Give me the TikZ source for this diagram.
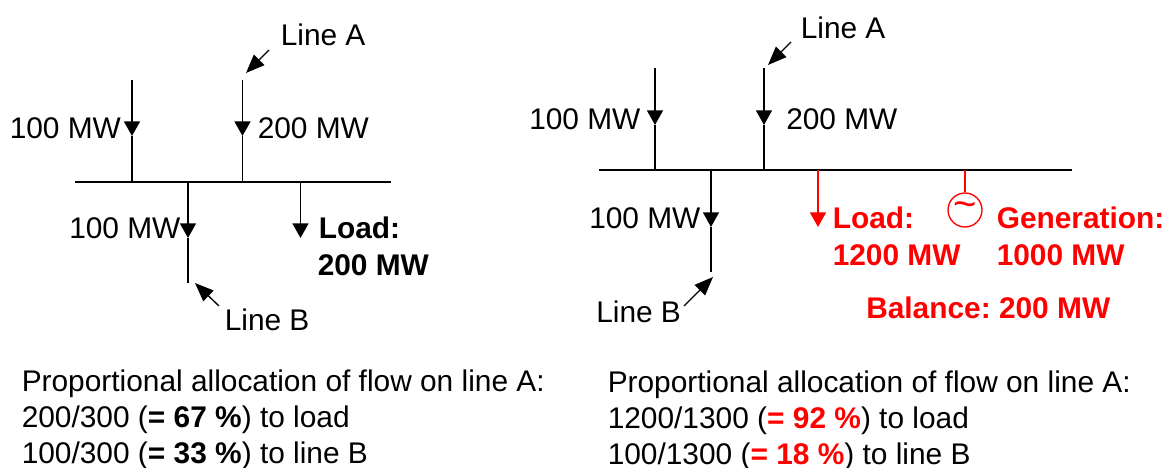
\documentclass[tikz,border=0pt]{standalone}
\usepackage{fontspec}
\setmainfont{Liberation Sans}
\usetikzlibrary{arrows.meta}
\definecolor{clred}{HTML}{FF0000}
\frenchspacing
\tikzset{
    lbl/.style={anchor=base west, inner sep=0pt, font=\fontsize{22.4}{26}\selectfont},
    lblb/.style={lbl, font=\fontsize{22.4}{26}\selectfont\bfseries},
    bus/.style={line width=1.5pt},
    feeder/.style={line width=1.2pt},
    flow/.style={feeder, -{Triangle[length=11pt, width=12pt]}},
    pointer/.style={line width=1pt, -{Triangle[length=14pt, width=11pt]}},
    gen/.style={draw=clred, circle, line width=1pt, minimum size=25.5pt, inner sep=0pt, text=clred, font=\fontsize{30}{30}\selectfont}
}
\begin{document}
\begin{tikzpicture}[x=0.75pt, y=-0.75pt]
    \useasboundingbox (0,0) rectangle (1165,468);
    % left network
    \coordinate (busLa) at (75,182);
    \coordinate (busLb) at (391,182);
    \coordinate (tapL1) at (132,182);
    \coordinate (tapL2) at (242.5,182);
    \coordinate (tapL3) at (188,182);
    \coordinate (tapL4) at (300.5,182);
    \coordinate (topL1) at (132,80);
    \coordinate (topL2) at (242.5,80);
    \coordinate (midL1) at (132,136);
    \coordinate (midL2) at (242.5,136);
    \coordinate (midL3) at (188,238);
    \coordinate (endL3) at (188,283);
    \coordinate (endL4) at (300.5,238);
    \coordinate (ptrLa) at (269,50);
    \coordinate (ptrLb) at (246,73);
    \coordinate (ptrLc) at (219,306);
    \coordinate (ptrLd) at (195,283);
    \draw[bus] (busLa) -- (busLb);
    \draw[flow] (topL1) -- (midL1);
    \draw[feeder] (midL1) -- (tapL1);
    \draw[flow] (topL2) -- (midL2);
    \draw[feeder] (midL2) -- (tapL2);
    \draw[flow] (tapL3) -- (midL3);
    \draw[feeder] (midL3) -- (endL3);
    \draw[flow] (tapL4) -- (endL4);
    \draw[pointer] (ptrLa) -- (ptrLb);
    \draw[pointer] (ptrLc) -- (ptrLd);
    \node[lbl] (lineAL) at (280.5,45) {Line A};
    \node[lbl] (flowL1) at (9.5,138.5) {100 MW};
    \node[lbl] (flowL2) at (257.5,138.5) {200 MW};
    \node[lbl] (flowL3) at (69,238) {100 MW};
    \node[lblb] (loadL1) at (318.5,238) {Load:};
    \node[lblb] (loadL2) at (317.5,275) {200 MW};
    \node[lbl] (lineBL) at (224.5,330) {Line B};
    % right network
    \coordinate (busRa) at (599,170);
    \coordinate (busRb) at (1072,170);
    \coordinate (tapR1) at (655,170);
    \coordinate (tapR2) at (764,170);
    \coordinate (tapR3) at (711,170);
    \coordinate (tapR4) at (818,170);
    \coordinate (tapR5) at (965,170);
    \coordinate (topR1) at (655,68);
    \coordinate (topR2) at (764,68);
    \coordinate (midR1) at (655,125);
    \coordinate (midR2) at (764,125);
    \coordinate (midR3) at (711,227);
    \coordinate (endR3) at (711,272);
    \coordinate (endR4) at (818,227);
    \coordinate (ptrRa) at (791,42);
    \coordinate (ptrRb) at (768,65);
    \coordinate (ptrRc) at (684,306);
    \coordinate (ptrRd) at (713,277);
    \node[gen] (genR) at (965,210) {\raisebox{-2pt}{\textasciitilde}};
    \draw[bus] (busRa) -- (busRb);
    \draw[flow] (topR1) -- (midR1);
    \draw[feeder] (midR1) -- (tapR1);
    \draw[flow] (topR2) -- (midR2);
    \draw[feeder] (midR2) -- (tapR2);
    \draw[flow] (tapR3) -- (midR3);
    \draw[feeder] (midR3) -- (endR3);
    \draw[flow, draw=clred, fill=clred] (tapR4) -- (endR4);
    \draw[line width=1pt, draw=clred] (tapR5) -- (genR);
    \draw[pointer] (ptrRa) -- (ptrRb);
    \draw[pointer] (ptrRc) -- (ptrRd);
    \node[lbl] (lineAR) at (800.5,38) {Line A};
    \node[lbl] (flowR1) at (529,129.5) {100 MW};
    \node[lbl] (flowR2) at (786,129.5) {200 MW};
    \node[lbl] (flowR3) at (589,228) {100 MW};
    \node[lblb, text=clred] (loadR1) at (832.5,228) {Load:};
    \node[lblb, text=clred] (loadR2) at (832.5,265) {1200 MW};
    \node[lblb, text=clred] (genR1) at (996.5,228) {Generation:};
    \node[lblb, text=clred] (genR2) at (996.5,265) {1000 MW};
    \node[lblb, text=clred] (balR) at (866,318.5) {Balance: 200 MW};
    \node[lbl] (lineBR) at (596,322.5) {Line B};
    % allocation text
    \node[lbl] (allocL1) at (21.5,391) {Proportional allocation of flow on line A:};
    \node[lbl] (allocL2) at (21.5,427) {200/300 (\textbf{= 67 \%}) to load};
    \node[lbl] (allocL3) at (21.5,463) {100/300 (\textbf{= 33 \%}) to line B};
    \node[lbl] (allocR1) at (607.5,392) {Proportional allocation of flow on line A:};
    \node[lbl] (allocR2) at (607.5,428) {1200/1300 (\textbf{\textcolor{clred}{= 92 \%}}) to load};
    \node[lbl] (allocR3) at (607.5,464) {100/1300 (\textbf{\textcolor{clred}{= 18 \%}}) to line B};
\end{tikzpicture}
\end{document}
